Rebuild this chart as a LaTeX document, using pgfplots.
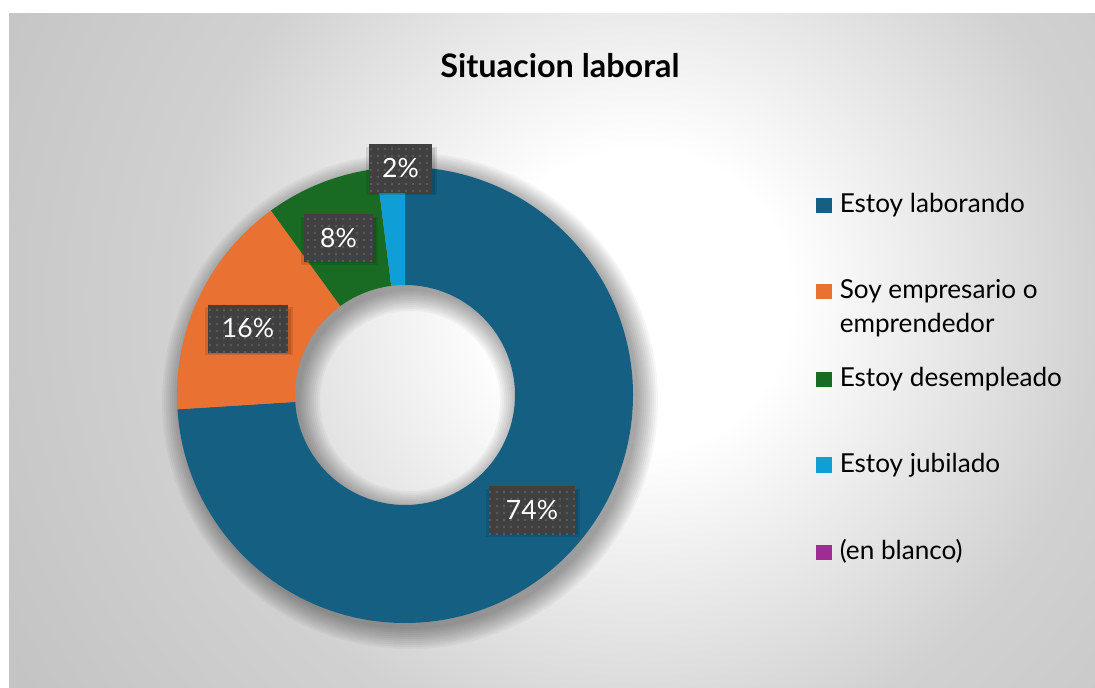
\documentclass[border=0pt]{standalone}
\usepackage{pgfplots}
\pgfplotsset{compat=1.18}
\usepackage{fontspec}
\setmainfont{Lato}
\usetikzlibrary{calc,patterns.meta}
\definecolor{c1}{HTML}{156082}
\definecolor{c2}{HTML}{E97132}
\definecolor{c3}{HTML}{196B24}
\definecolor{c4}{HTML}{0F9ED5}
\definecolor{c5}{HTML}{A02B93}
\definecolor{lblbg}{HTML}{404040}
\definecolor{dotc}{HTML}{5C5C5C}
\pgfdeclareradialshading{bgshade}{\pgfpoint{0bp}{0bp}}{%
  color(0bp)=(white); color(5bp)=(white); color(15.3bp)=(black!18);
  color(24bp)=(black!23); color(50bp)=(black!23)}
% slice: #1 cumulative percent before, #2 percent, #3 colour
\newcommand\slice[3]{%
  \fill[#3] ($(axis cs:405,395)+({90-3.6*(#1)}:171pt)$)
    arc[start angle={90-3.6*(#1)}, delta angle={-3.6*(#2)}, radius=171pt]
    -- ($(axis cs:405,395)+({90-3.6*(#1+#2)}:82.5pt)$)
    arc[start angle={90-3.6*(#1+#2)}, delta angle={3.6*(#2)}, radius=82.5pt]
    -- cycle;}
\newcommand\shadowring[1]{%
  \fill[black, opacity=0.035, even odd rule]
    (axis cs:410,401) circle[radius={(171+#1)*1pt}]
    (axis cs:410,401) circle[radius={(82.5-#1)*1pt}];}
\newcommand\lbl[4]{% x, y, width px, text
  \fill[black, opacity=0.10] ($(axis cs:#1,#2)+({-#3*0.375-2)*1pt},-20pt)$) rectangle ($(axis cs:#1,#2)+({(#3*0.375+4)*1pt},16pt)$);
  \fill[black, opacity=0.10] ($(axis cs:#1,#2)+({(-#3*0.375)*1pt},-19pt)$) rectangle ($(axis cs:#1,#2)+({(#3*0.375+2.5)*1pt},15pt)$);
  \node[fill=lblbg, text=white, minimum width={#3*0.75pt}, minimum height=36pt,
        inner sep=0pt, font=\fontsize{19.9}{24}\selectfont,
        postaction={pattern={Dots[distance=5.25pt, radius=1.1pt]}, pattern color=dotc}]
    at (axis cs:#1,#2) {#4};}
\newcommand\legsq[2]{% y center, colour
  \fill[#2] (axis cs:816,{#1-7.7}) rectangle (axis cs:832,{#1+7.7});}
\newcommand\legtxt[2]{% baseline y, text
  \node[anchor=base west, inner sep=0pt, font=\fontsize{19.6}{24}\selectfont]
    at (axis cs:839.5,#1) {#2};}
\begin{document}
\begin{tikzpicture}
\begin{axis}[hide axis, scale only axis, width=821.25pt, height=516pt,
  xmin=0, xmax=1095, ymin=0, ymax=688, y dir=reverse, clip=false]
\fill[white] (axis cs:0,0) rectangle (axis cs:1095,688);
\begin{scope}
  \clip (axis cs:9,14) rectangle (axis cs:1095,688);
  \shade[shading=bgshade] (axis cs:640,300) circle[radius=562.5pt];
\end{scope}
% soft shadow of the ring
\shadowring{0}\shadowring{1.5}\shadowring{3}\shadowring{4.5}
\shadowring{6}\shadowring{7.5}\shadowring{9}\shadowring{10.5}
\shadowring{12}\shadowring{13.5}\shadowring{15}
% data: 74, 16, 8, 2, 0 (%)
\slice{0}{74}{c1}
\slice{74}{16}{c2}
\slice{90}{8}{c3}
\slice{98}{2}{c4}
\slice{100}{0}{c5}
% data labels
\lbl{400.5}{168.5}{63}{2\%}
\lbl{338.5}{238}{69}{8\%}
\lbl{248}{328.5}{80}{16\%}
\lbl{532}{510}{86}{74\%}
% title
\node[anchor=base, inner sep=0pt, font=\fontsize{24.3}{28}\bfseries]
  at (axis cs:560,77.7) {Situacion laboral};
% legend
\legsq{205.5}{c1}\legtxt{212.7}{Estoy laborando}
\legsq{291.5}{c2}\legtxt{298.7}{Soy empresario o}
\legtxt{332.7}{emprendedor}
\legsq{379.5}{c3}\legtxt{386.7}{Estoy desempleado}
\legsq{465}{c4}\legtxt{472.2}{Estoy jubilado}
\legsq{552.5}{c5}\legtxt{559.7}{(en blanco)}
\end{axis}
\end{tikzpicture}
\end{document}
